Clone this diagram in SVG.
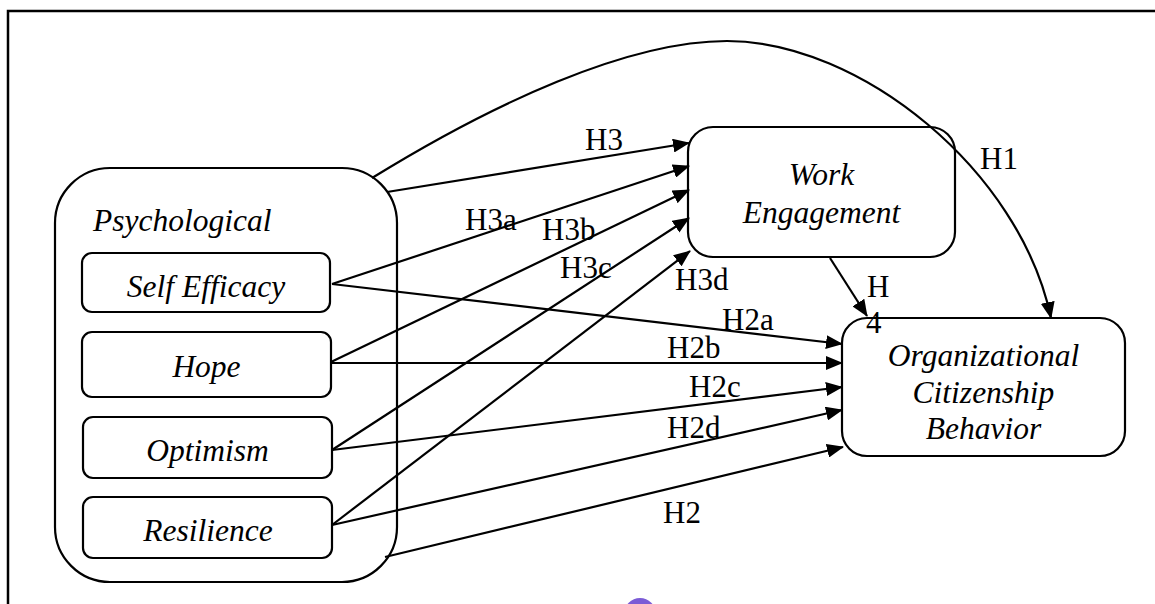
<svg xmlns="http://www.w3.org/2000/svg" width="1155" height="604" viewBox="0 0 1155 604">
<defs>
<marker id="ah" viewBox="0 0 17 14" refX="16" refY="7" markerWidth="17" markerHeight="14" markerUnits="userSpaceOnUse" orient="auto">
<path d="M0,0 L17,7 L0,14 Z" fill="#000"/>
</marker>
<style>
.box{fill:#fff;stroke:#000;stroke-width:2.2}
.node{font-family:"Liberation Serif","Times New Roman",serif;font-style:italic;font-size:31.5px;fill:#000}
.lbl{font-family:"Liberation Serif","Times New Roman",serif;font-size:31px;fill:#000}
.edge{fill:none;stroke:#000;stroke-width:2.2;marker-end:url(#ah)}
</style>
</defs>
<rect width="1155" height="604" fill="#fff"/>
<path d="M8,604 L8,11 L1155,11" fill="none" stroke="#000" stroke-width="2.5"/>
<circle cx="640" cy="614" r="16" fill="#7B5BD6"/>

<g id="psychological">
<rect class="box" x="55" y="168" width="342" height="414" rx="55"/>
<text class="node" x="93" y="231">Psychological</text>
</g>
<g id="self-efficacy">
<rect class="box" x="82" y="253" width="248" height="59" rx="10"/>
<text class="node" x="206" y="297" text-anchor="middle">Self Efficacy</text>
</g>
<g id="hope">
<rect class="box" x="82" y="332" width="249" height="65" rx="10"/>
<text class="node" x="206.5" y="377" text-anchor="middle">Hope</text>
</g>
<g id="optimism">
<rect class="box" x="83" y="417" width="249" height="61" rx="10"/>
<text class="node" x="207.5" y="461" text-anchor="middle">Optimism</text>
</g>
<g id="resilience">
<rect class="box" x="83" y="497" width="249" height="61" rx="10"/>
<text class="node" x="208" y="541" text-anchor="middle">Resilience</text>
</g>
<g id="work-engagement">
<rect class="box" x="688" y="127" width="267" height="130" rx="25"/>
<text class="node" x="821.5" y="185" text-anchor="middle">Work</text>
<text class="node" x="821.5" y="223" text-anchor="middle">Engagement</text>
</g>
<g id="ocb">
<rect class="box" x="842" y="318" width="283" height="138" rx="25"/>
<text class="node" x="983.5" y="366" text-anchor="middle">Organizational</text>
<text class="node" x="983.5" y="403" text-anchor="middle">Citizenship</text>
<text class="node" x="983.5" y="439" text-anchor="middle">Behavior</text>
</g>

<g id="connectors">
<path class="edge" d="M372,178 C492,104 627,41 727,41 C860,41 1020,170 1051,318"/>
<path class="edge" d="M387,192 L689,143"/>
<path class="edge" d="M332,284 L689,166"/>
<path class="edge" d="M331,362 L689,190"/>
<path class="edge" d="M332,450 L689,218"/>
<path class="edge" d="M332,525 L690,251"/>
<path class="edge" d="M332,284 L842,344"/>
<path class="edge" d="M331,363 L842,363"/>
<path class="edge" d="M332,450 L842,387"/>
<path class="edge" d="M332,525 L842,410"/>
<path class="edge" d="M385,557 L843,447"/>
<path class="edge" d="M830,258 L867,316"/>
</g>

<g id="labels">
<text class="lbl" x="585" y="150">H3</text>
<text class="lbl" x="465" y="230">H3a</text>
<text class="lbl" x="542" y="240">H3b</text>
<text class="lbl" x="560" y="278">H3c</text>
<text class="lbl" x="675" y="290">H3d</text>
<text class="lbl" x="980" y="169">H1</text>
<text class="lbl" x="867" y="297">H</text>
<text class="lbl" x="866" y="333">4</text>
<text class="lbl" x="722" y="330">H2a</text>
<text class="lbl" x="667" y="358">H2b</text>
<text class="lbl" x="689" y="397">H2c</text>
<text class="lbl" x="667" y="438">H2d</text>
<text class="lbl" x="663" y="523">H2</text>
</g>
</svg>
